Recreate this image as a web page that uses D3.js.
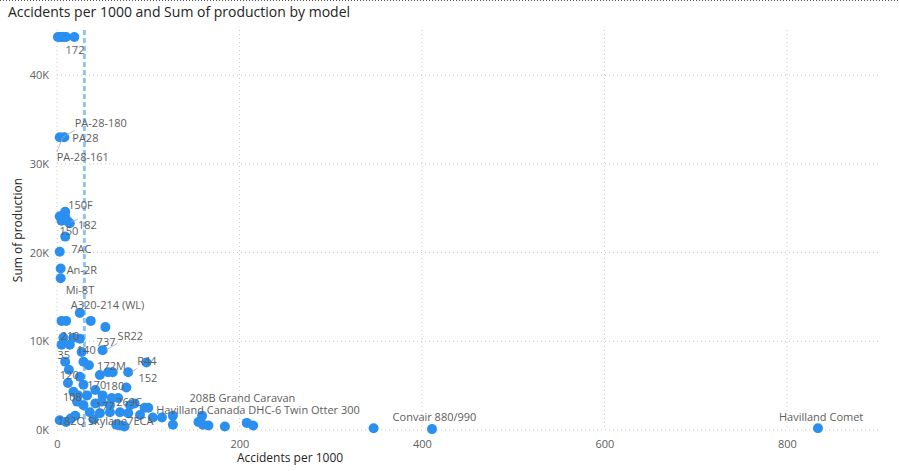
<!DOCTYPE html>
<html><head><meta charset="utf-8">
<script src="https://cdn.jsdelivr.net/npm/d3@7"></script>
<style>body{margin:0;background:#fff;font-family:"Segoe UI","Open Sans",sans-serif}</style>
</head><body>
<script>
// accidents per 1000, production (thousands)
var accX = [1,3,5,7,10,19, 3,8, 9,3,6,9,12,14,5, 9,3,4,4,
  5,10,25,37,53,7,18,25,5,14,27,50,9,29,35,13,47,56,61,78,98,25,12,29,42,76,18,23,33,50,60,67,22,29,42,49,58,85,80,96,100,
  36,47,58,69,78,91,105,115,127,127,155,159,160,166,184,208,215,69,74,3,10,15,20,40,65,347,411,834];
var prodK = [44.3,44.3,44.3,44.3,44.3,44.3, 33.0,33.0, 24.6,24.1,24.1,24.0,23.5,23.3,23.6, 21.8,20.1,18.2,17.1,
  12.3,12.3,13.2,12.3,11.6,10.4,10.4,10.3,9.6,9.6,8.8,9.0,7.7,7.7,7.3,6.8,6.2,6.5,6.5,6.5,7.6,6.0,5.3,5.1,4.5,4.8,4.3,3.9,3.9,3.9,3.6,3.6,3.2,2.8,3.0,3.2,2.8,3.0,2.8,2.5,2.5,
  2.0,1.9,2.0,2.0,1.9,1.7,1.4,1.4,1.6,0.6,0.9,1.6,0.6,0.5,0.4,0.8,0.5,0.5,0.4,1.1,0.9,1.3,1.6,1.2,0.6,0.2,0.1,0.2];
var labelNames = ["172","PA-28-180","PA28","PA-28-161","150F","182","150","7AC","An-2R","Mi-8T","A320-214 (WL)","210","737","SR22","140","35","172M","R44","152","120","170","180","208B Grand Caravan","108","177","269C","Havilland Canada DHC-6 Twin Otter 300","182Q Skylane","7ECA","Convair 880/990","Havilland Comet"];
var labelPointIdx = [2,6,7,6,8,12,10,15,17,18,21,24,30,30,26,27,36,38,39,40,43,44,58,41,49,50,59,79,64,85,87];
var xTicks = [0,200,400,600,800];
var yTicks = [0,10,20,30,40];
var avgX = 30;

// label offsets in px from their point (dx, dy baseline), leader flag
var labelOff = [[4,17],[15,-10,1],[8,5],[-3,24,1],[3,-3],[10,7,1],[-3,19],[6,16],[6,5],[5,16],[-9,-4],[-3,2],[-6,-4],[15,-10,1],[-3,15],[-4,14],[-11,-2],[9,-7,1],[-8,19],[-20,2],[-8,-1],[-21,3],[45,-6],[-5,18],[-16,12],[-2,8],[8,6],[-2,5],[-1,12],[19,-7],[-39,-7]];

var W = 899, H = 471;
var m = {l:57, r:880, t:30, b:430};
var svg = d3.select('body').append('svg').attr('width', W).attr('height', H);

svg.append('line').attr('x1',0).attr('x2',W).attr('y1',0.5).attr('y2',0.5)
  .attr('stroke','#555').attr('stroke-dasharray','1,2');
svg.append('text').attr('x',8).attr('y',17).attr('font-size',14).attr('fill','#252423')
  .text('Accidents per 1000 and Sum of production by model');

var x = d3.scaleLinear().domain([0, 902]).range([m.l, m.r]);
var y = d3.scaleLinear().domain([0, 44.3]).range([m.b, 37]);

var gx = svg.append('g').attr('transform','translate(0,'+m.b+')')
  .call(d3.axisBottom(x).tickValues(xTicks).tickSize(0).tickPadding(10));
var gy = svg.append('g').attr('transform','translate('+m.l+',0)')
  .call(d3.axisLeft(y).tickValues(yTicks).tickFormat(function(d){return d+'K';}).tickSize(0).tickPadding(8));
[gx, gy].forEach(function(g){
  g.select('.domain').remove();
  g.selectAll('text').attr('fill','#605e5c').attr('font-size',11).attr('font-family','"Segoe UI","Open Sans",sans-serif');
});
svg.selectAll('.gx').data(xTicks).enter().append('line')
  .attr('x1',function(d){return x(d);}).attr('x2',function(d){return x(d);})
  .attr('y1',m.t).attr('y2',m.b).attr('stroke','#c8c8c8').attr('stroke-dasharray','1,3');
svg.selectAll('.gy').data(yTicks).enter().append('line')
  .attr('x1',m.l).attr('x2',m.r).attr('y1',function(d){return y(d);}).attr('y2',function(d){return y(d);})
  .attr('stroke','#c8c8c8').attr('stroke-dasharray','1,3');

svg.append('text').attr('x',290).attr('y',462).attr('text-anchor','middle')
  .attr('font-size',12).attr('fill','#252423').text('Accidents per 1000');
svg.append('text').attr('transform','translate(22,230) rotate(-90)').attr('text-anchor','middle')
  .attr('font-size',12).attr('fill','#252423').text('Sum of production');

svg.append('line').attr('x1',x(avgX)).attr('x2',x(avgX)).attr('y1',m.t).attr('y2',m.b)
  .attr('stroke','#8ec5f6').attr('stroke-width',3).attr('stroke-dasharray','5,3');

svg.selectAll('circle').data(accX).enter().append('circle')
  .attr('cx',function(d){return x(d);}).attr('cy',function(d,i){return y(prodK[i]);})
  .attr('r',5).attr('fill','#2b8ff0');

labelNames.forEach(function(n, i){
  var p = labelPointIdx[i], o = labelOff[i];
  var px = x(accX[p]), py = y(prodK[p]);
  if (o[2]) svg.append('line').attr('x1',px+3).attr('y1',py).attr('x2',px+o[0]).attr('y2',py+o[1]+(o[1]<0?3:-9))
    .attr('stroke','#aaa').attr('stroke-width',0.8);
  svg.append('text').attr('x',px+o[0]).attr('y',py+o[1]).attr('font-size',11).attr('fill','#605e5c').text(n);
});
</script>
</body></html>
